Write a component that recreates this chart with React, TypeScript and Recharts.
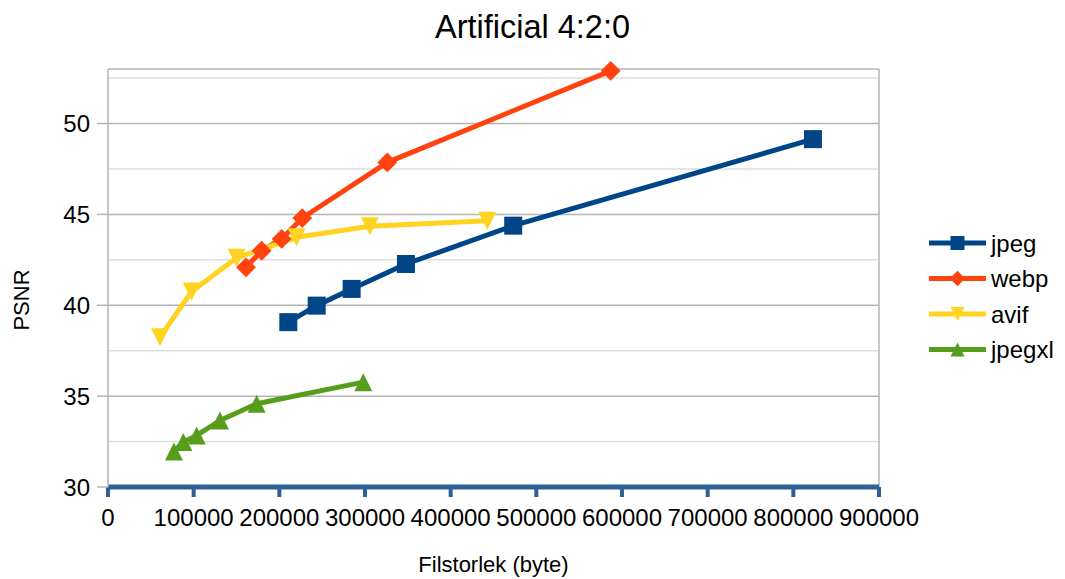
import { LineChart, Line, XAxis, YAxis, CartesianGrid, ReferenceLine, Label } from 'recharts';

// file size (bytes) and PSNR
const jpegSize = [210500, 243600, 284400, 347800, 473000, 822900];
const jpegPsnr = [39.07, 39.98, 40.9, 42.27, 44.38, 49.14];

const webpSize = [161100, 179400, 202700, 226800, 326000, 586800];
const webpPsnr = [42.09, 43.0, 43.65, 44.8, 47.86, 52.9];

const avifSize = [60700, 97700, 150200, 220200, 305800, 442800];
const avifPsnr = [38.24, 40.76, 42.62, 43.74, 44.35, 44.65];

const jpegxlSize = [77000, 87900, 103500, 130700, 173600, 298000];
const jpegxlPsnr = [31.95, 32.47, 32.84, 33.66, 34.58, 35.77];

const xTicks = [0, 100000, 200000, 300000, 400000, 500000, 600000, 700000, 800000, 900000];
const yTicks = [30, 35, 40, 45, 50];
const yMinor = [32.5, 37.5, 42.5, 47.5, 52.5];

type Shape = 'square' | 'diamond' | 'down' | 'up';

const toPoints = (xs: number[], ys: number[]) => xs.map((x, i) => ({ x, y: ys[i] }));

const series: { name: string; color: string; shape: Shape; data: { x: number; y: number }[] }[] = [
  { name: 'jpeg', color: '#004586', shape: 'square', data: toPoints(jpegSize, jpegPsnr) },
  { name: 'webp', color: '#ff420e', shape: 'diamond', data: toPoints(webpSize, webpPsnr) },
  { name: 'avif', color: '#ffd320', shape: 'down', data: toPoints(avifSize, avifPsnr) },
  { name: 'jpegxl', color: '#579d1c', shape: 'up', data: toPoints(jpegxlSize, jpegxlPsnr) },
];

const FONT = '"Liberation Sans", Arial, sans-serif';
const AXIS_BLUE = '#2d6097';

function Marker({ cx, cy, shape, color, size }: { cx: number; cy: number; shape: Shape; color: string; size: number }) {
  const r = size / 2;
  if (shape === 'square') {
    return <rect x={cx - r} y={cy - r} width={size} height={size} fill={color} />;
  }
  if (shape === 'diamond') {
    const d = r * 1.1;
    return <polygon points={`${cx},${cy - d} ${cx + d},${cy} ${cx},${cy + d} ${cx - d},${cy}`} fill={color} />;
  }
  if (shape === 'down') {
    return <polygon points={`${cx - r},${cy - r} ${cx + r},${cy - r} ${cx},${cy + r}`} fill={color} />;
  }
  return <polygon points={`${cx - r},${cy + r} ${cx + r},${cy + r} ${cx},${cy - r}`} fill={color} />;
}

function ChartLegend() {
  return (
    <svg width={142} height={150} style={{ position: 'absolute', left: 912, top: 218 }}>
      {series.map((s, i) => {
        const cy = 17 + i * 35.5;
        return (
          <g key={s.name}>
            <line x1={9} x2={66} y1={cy} y2={cy} stroke={s.color} strokeWidth={5} />
            <Marker cx={37.5} cy={cy} shape={s.shape} color={s.color} size={14} />
            <text x={71} y={cy + 8.5} fontSize={24} fill="#000" fontFamily={FONT}>
              {s.name}
            </text>
          </g>
        );
      })}
    </svg>
  );
}

export default function App() {
  return (
    <div style={{ position: 'relative', width: 1049, height: 571, fontFamily: FONT, background: '#fff' }}>
      <div
        style={{
          position: 'absolute',
          left: 0,
          width: 1049,
          top: 1,
          lineHeight: '36px',
          textAlign: 'center',
          fontSize: 32.5,
          color: '#000',
        }}
      >
        Artificial 4:2:0
      </div>
      <LineChart width={1049} height={563} margin={{ top: 61, right: 178, bottom: 0, left: 0 }}>
        <CartesianGrid vertical={false} horizontalValues={yMinor} stroke="#dddddd" strokeWidth={1.5} />
        <CartesianGrid vertical={false} horizontalValues={yTicks} stroke="#b3b3b3" strokeWidth={1.5} />
        <ReferenceLine y={53} stroke="#b3b3b3" strokeWidth={1.5} />
        <ReferenceLine x={900000} stroke="#b3b3b3" strokeWidth={1.5} />
        <XAxis
          type="number"
          dataKey="x"
          domain={[0, 900000]}
          ticks={xTicks}
          interval={0}
          height={84}
          tickSize={10}
          tickMargin={12}
          axisLine={{ stroke: AXIS_BLUE, strokeWidth: 5 }}
          tickLine={{ stroke: AXIS_BLUE, strokeWidth: 4 }}
          tick={{ fontSize: 24, fill: '#000', fontFamily: FONT }}
        />
        <YAxis
          type="number"
          domain={[30, 53]}
          ticks={yTicks}
          width={100}
          tickSize={11}
          tickMargin={7}
          axisLine={{ stroke: '#b3b3b3', strokeWidth: 1.5 }}
          tickLine={{ stroke: '#b3b3b3', strokeWidth: 1.5 }}
          tick={{ fontSize: 24, fill: '#000', fontFamily: FONT }}
        >
          <Label
            content={() => (
              <text
                x={13}
                y={292}
                transform="rotate(-90 13 292)"
                textAnchor="middle"
                dominantBaseline="central"
                fontSize={22}
                fill="#000"
                fontFamily={FONT}
              >
                PSNR
              </text>
            )}
          />
        </YAxis>
        {series.map((s) => (
          <Line
            key={s.name}
            data={s.data}
            dataKey="y"
            name={s.name}
            type="linear"
            stroke={s.color}
            strokeWidth={5}
            strokeLinejoin="round"
            isAnimationActive={false}
            activeDot={false}
            dot={(p: any) => (
              <Marker key={`${s.name}-${p.index}`} cx={p.cx} cy={p.cy} shape={s.shape} color={s.color} size={18} />
            )}
          />
        ))}
      </LineChart>
      <div
        style={{
          position: 'absolute',
          left: 100,
          width: 771,
          top: 546,
          height: 22,
          lineHeight: '22px',
          textAlign: 'center',
          fontSize: 22,
          color: '#000',
          whiteSpace: 'nowrap',
        }}
      >
        Filstorlek (byte)
      </div>
      <ChartLegend />
    </div>
  );
}
